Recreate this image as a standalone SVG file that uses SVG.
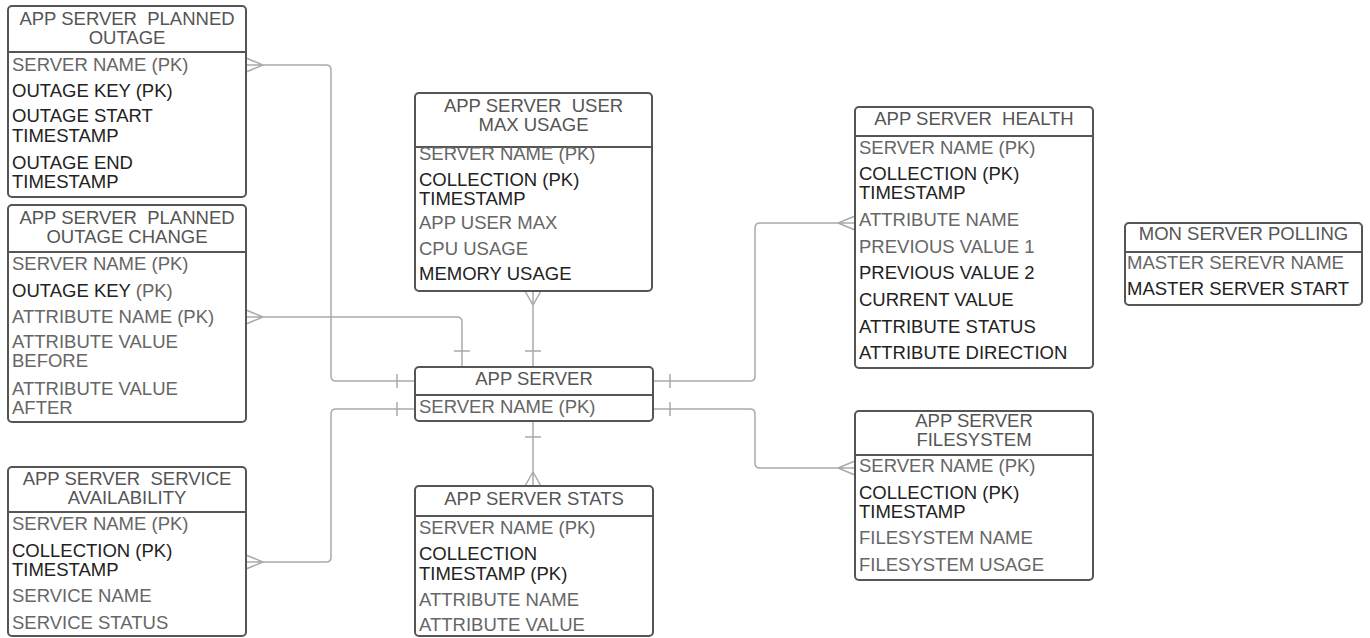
<svg xmlns="http://www.w3.org/2000/svg" width="1370" height="638" viewBox="0 0 1370 638" xml:space="preserve">
<style>
text{font-family:"Liberation Sans",Arial,sans-serif;font-size:18.5px;white-space:pre}
.t{fill:#555;text-anchor:middle}
.g{fill:#666}
.d{fill:#222}
.box{fill:#fff;stroke:#555;stroke-width:2}
.div{stroke:#555;stroke-width:2}
.c{fill:none;stroke:#aaa;stroke-width:1.5}
</style>
<rect width="1370" height="638" fill="#fff"/>
<g id="connectors">
<path class="c" d="M246 65H326Q331 65 331 70V376Q331 381 336 381H415M246 58L263 65L246 72M397 374V388"/>
<path class="c" d="M246 317H457Q462 317 462 322V366M246 310L263 317L246 324M454 351H470"/>
<path class="c" d="M246 562H326Q331 562 331 557V414Q331 409 336 409H415M246 555L263 562L246 569M397 402V416"/>
<path class="c" d="M533 291V366M525 291L533 305L541 291M525 351H541"/>
<path class="c" d="M533 421V486M525 437H541M525 486L533 472L541 486"/>
<path class="c" d="M653 381H750Q755 381 755 376V228Q755 223 760 223H855M670 374V388M855 216L838 223L855 230"/>
<path class="c" d="M653 409H750Q755 409 755 414V463Q755 468 760 468H855M670 402V416M855 461L838 468L855 475"/>
</g>
<g id="planned_outage">
<rect class="box" x="8" y="6" width="238" height="191" rx="4"/>
<line class="div" x1="8" y1="52" x2="246" y2="52"/>
<text class="t" x="127" y="25">APP SERVER  PLANNED</text>
<text class="t" x="127" y="44">OUTAGE</text>
<text class="g" x="12" y="70.5">SERVER NAME (PK)</text>
<text class="d" x="12" y="97">OUTAGE KEY (PK)</text>
<text class="d" x="12" y="122">OUTAGE START</text>
<text class="d" x="12" y="141.5">TIMESTAMP</text>
<text class="d" x="12" y="168.5">OUTAGE END</text>
<text class="d" x="12" y="188">TIMESTAMP</text>
</g>
<g id="planned_outage_change">
<rect class="box" x="8" y="205" width="238" height="217" rx="4"/>
<line class="div" x1="8" y1="252" x2="246" y2="252"/>
<text class="t" x="127" y="224">APP SERVER  PLANNED</text>
<text class="t" x="127" y="243">OUTAGE CHANGE</text>
<text class="g" x="12" y="270">SERVER NAME (PK)</text>
<text class="d" x="12" y="296.5">OUTAGE KEY <tspan class="g">(PK)</tspan></text>
<text class="g" x="12" y="323">ATTRIBUTE NAME (PK)</text>
<text class="g" x="12" y="348">ATTRIBUTE VALUE</text>
<text class="g" x="12" y="367">BEFORE</text>
<text class="g" x="12" y="395">ATTRIBUTE VALUE</text>
<text class="g" x="12" y="414">AFTER</text>
</g>
<g id="service_availability">
<rect class="box" x="8" y="467" width="238" height="169" rx="4"/>
<line class="div" x1="8" y1="512" x2="246" y2="512"/>
<text class="t" x="127" y="485">APP SERVER  SERVICE</text>
<text class="t" x="127" y="504">AVAILABILITY</text>
<text class="g" x="12" y="530">SERVER NAME (PK)</text>
<text class="d" x="12" y="557">COLLECTION (PK)</text>
<text class="d" x="12" y="576">TIMESTAMP</text>
<text class="g" x="12" y="602">SERVICE NAME</text>
<text class="g" x="12" y="628.5">SERVICE STATUS</text>
</g>
<g id="user_max_usage">
<rect class="box" x="415" y="93" width="237" height="198" rx="4"/>
<line class="div" x1="415" y1="147" x2="652" y2="147"/>
<text class="t" x="533.5" y="111.5">APP SERVER  USER</text>
<text class="t" x="533.5" y="130.5">MAX USAGE</text>
<text class="g" x="419" y="160">SERVER NAME (PK)</text>
<text class="d" x="419" y="186">COLLECTION (PK)</text>
<text class="d" x="419" y="205">TIMESTAMP</text>
<text class="g" x="419" y="228.5">APP USER MAX</text>
<text class="g" x="419" y="255">CPU USAGE</text>
<text class="d" x="419" y="280">MEMORY USAGE</text>
</g>
<g id="app_server">
<rect class="box" x="415" y="367" width="238" height="54" rx="4"/>
<line class="div" x1="415" y1="395" x2="653" y2="395"/>
<text class="t" x="534" y="384.5">APP SERVER</text>
<text class="g" x="419" y="413">SERVER NAME (PK)</text>
</g>
<g id="stats">
<rect class="box" x="415" y="486" width="238" height="150" rx="4"/>
<line class="div" x1="415" y1="516" x2="653" y2="516"/>
<text class="t" x="534" y="505">APP SERVER STATS</text>
<text class="g" x="419" y="533.5">SERVER NAME (PK)</text>
<text class="d" x="419" y="560">COLLECTION</text>
<text class="d" x="419" y="579.5">TIMESTAMP (PK)</text>
<text class="g" x="419" y="606">ATTRIBUTE NAME</text>
<text class="g" x="419" y="631">ATTRIBUTE VALUE</text>
</g>
<g id="health">
<rect class="box" x="855" y="107" width="238" height="261" rx="4"/>
<line class="div" x1="855" y1="136" x2="1093" y2="136"/>
<text class="t" x="974" y="124.5">APP SERVER  HEALTH</text>
<text class="g" x="859" y="153.5">SERVER NAME (PK)</text>
<text class="d" x="859" y="180">COLLECTION (PK)</text>
<text class="d" x="859" y="199">TIMESTAMP</text>
<text class="g" x="859" y="226">ATTRIBUTE NAME</text>
<text class="g" x="859" y="252.5">PREVIOUS VALUE 1</text>
<text class="d" x="859" y="279">PREVIOUS VALUE 2</text>
<text class="d" x="859" y="306">CURRENT VALUE</text>
<text class="d" x="859" y="332.5">ATTRIBUTE STATUS</text>
<text class="d" x="859" y="359">ATTRIBUTE DIRECTION</text>
</g>
<g id="filesystem">
<rect class="box" x="855" y="411" width="238" height="169" rx="4"/>
<line class="div" x1="855" y1="455" x2="1093" y2="455"/>
<text class="t" x="974" y="427">APP SERVER</text>
<text class="t" x="974" y="446">FILESYSTEM</text>
<text class="g" x="859" y="472">SERVER NAME (PK)</text>
<text class="d" x="859" y="499">COLLECTION (PK)</text>
<text class="d" x="859" y="517.5">TIMESTAMP</text>
<text class="g" x="859" y="544">FILESYSTEM NAME</text>
<text class="g" x="859" y="570.5">FILESYSTEM USAGE</text>
</g>
<g id="mon_server_polling">
<rect class="box" x="1125" y="223" width="237" height="82" rx="4"/>
<line class="div" x1="1125" y1="252" x2="1362" y2="252"/>
<text class="t" x="1243.5" y="239.5">MON SERVER POLLING</text>
<text class="g" x="1127" y="268.5">MASTER SEREVR NAME</text>
<text class="d" x="1127" y="295">MASTER SERVER START</text>
</g>
</svg>
